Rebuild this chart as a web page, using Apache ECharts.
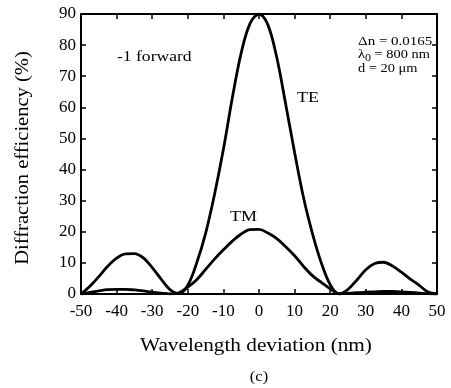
<!DOCTYPE html>
<html>
<head>
<meta charset="utf-8">
<script src="https://cdn.jsdelivr.net/npm/echarts@6/dist/echarts.min.js"></script>
<style>html,body{margin:0;padding:0;background:#fff}#c{width:451px;height:388px}</style>
</head>
<body>
<div id="c"></div>
<script>
var wavelength = [-50,-47.5,-45,-42.5,-40,-37.5,-35,-32.5,-30,-27.5,-25,-22.5,-20,-17.5,-15,-12.5,-10,-7.5,-5,-2.5,0,2.5,5,7.5,10,12.5,15,17.5,20,22.5,25,27.5,30,32.5,35,37.5,40,42.5,45,47.5,50];
var teValues = [0,2.5,5.6,8.9,11.5,12.9,13.0,11.6,8.5,4.8,1.4,0.1,2.8,10,19.5,32,46.5,63,77.5,87,90,86.5,76,61,45.5,31,19.5,10,3,0,1.5,4.5,7.8,9.8,10.2,9,7,4.8,2.8,0.6,0.1];
var tmValues = [0,0.5,1.0,1.4,1.5,1.5,1.3,1.0,0.6,0.3,0.05,0.4,2.2,4.6,7.9,11.2,14.2,17.0,19.3,20.7,20.8,19.6,17.8,15.2,12.3,8.9,5.9,3.7,1.7,0.1,0.2,0.4,0.6,0.7,0.8,0.8,0.7,0.5,0.3,0.1,0];
var xTicks = [-50,-40,-30,-20,-10,0,10,20,30,40,50];
var yTicks = [0,10,20,30,40,50,60,70,80,90];

var serif = 'Liberation Serif';
function pairs(v){ return wavelength.map(function(x,i){ return [x, v[i]]; }); }

var chart = echarts.init(document.getElementById('c'));
var tickStyle = {show:true, inside:true, length:5, lineStyle:{color:'#000', width:1.5}};
var lineStyle = {color:'#000', width:2};
function txt(x, y, s, size, align, extra){
  var o = {type:'text', x:x, y:y, style:{text:s, fontFamily:serif, fontSize:size, fill:'#000', align:align, verticalAlign:'middle'}};
  if (extra) for (var k in extra) o[k] = extra[k];
  return o;
}
chart.setOption({
  animation:false,
  grid:{left:81, right:14, top:14, bottom:94},
  xAxis:[{
    type:'value', min:-50, max:50, interval:10, position:'bottom',
    axisLine:{show:true, onZero:false, lineStyle:lineStyle},
    axisTick:tickStyle, splitLine:{show:false},
    axisLabel:{color:'#000', fontFamily:serif, fontSize:17, margin:9,
      formatter:function(v){ return xTicks.indexOf(v)>=0 ? String(v) : ''; }}
  },{
    type:'value', min:-50, max:50, interval:10, position:'top',
    axisLine:{show:true, onZero:false, lineStyle:lineStyle},
    axisTick:tickStyle, axisLabel:{show:false}, splitLine:{show:false}
  }],
  yAxis:[{
    type:'value', min:0, max:90, interval:10, position:'left',
    axisLine:{show:true, onZero:false, lineStyle:lineStyle},
    axisTick:tickStyle, splitLine:{show:false},
    axisLabel:{color:'#000', fontFamily:serif, fontSize:17, margin:5,
      formatter:function(v){ return yTicks.indexOf(v)>=0 ? String(v) : ''; }}
  },{
    type:'value', min:0, max:90, interval:10, position:'right',
    axisLine:{show:true, onZero:false, lineStyle:lineStyle},
    axisTick:tickStyle, axisLabel:{show:false}, splitLine:{show:false}
  }],
  series:[{
    name:'TE', type:'line', data:pairs(teValues), smooth:0.35, symbol:'none',
    lineStyle:{color:'#000', width:2.8}
  },{
    name:'TM', type:'line', data:pairs(tmValues), smooth:0.35, symbol:'none',
    lineStyle:{color:'#000', width:2.8}
  }],
  graphic:[
    txt(23, 158, 'Diffraction efficiency (%)', 19, 'center', {rotation:Math.PI/2, scaleX:1.08}),
    txt(256, 346, 'Wavelength deviation (nm)', 18, 'center', {scaleX:1.18}),
    txt(259, 377, '(c)', 15, 'center', {scaleX:1.1}),
    txt(117, 57, '-1 forward', 15, 'left', {scaleX:1.17}),
    txt(297, 98, 'TE', 15, 'left', {scaleX:1.2}),
    txt(230, 217, 'TM', 15, 'left', {scaleX:1.2}),
    txt(358, 42, 'Δn = 0.0165', 12, 'left', {scaleX:1.25}),
    {type:'text', x:358, y:55, scaleX:1.2, style:{text:'λ{s|0} = 800 nm', rich:{s:{fontFamily:serif, fontSize:10, padding:[6,0,0,0]}}, fontFamily:serif, fontSize:12, fill:'#000', align:'left', verticalAlign:'middle'}},
    txt(358, 69, 'd = 20 μm', 12, 'left', {scaleX:1.2})
  ]
});
</script>
</body>
</html>
